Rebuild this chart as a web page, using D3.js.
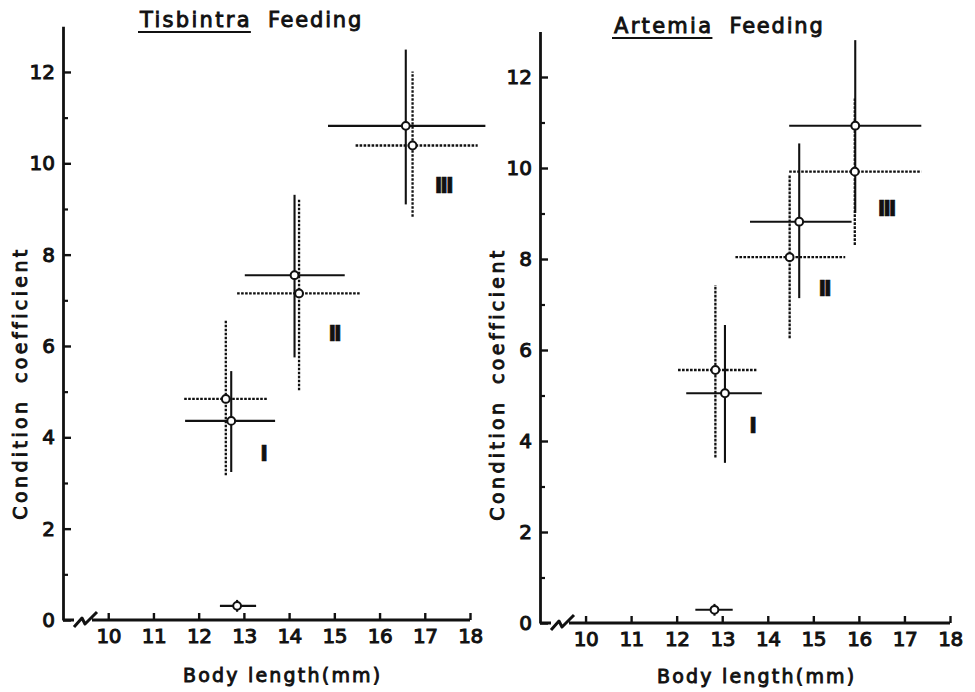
<!DOCTYPE html>
<html>
<head>
<meta charset="utf-8">
<script src="https://cdn.jsdelivr.net/npm/d3@7"></script>
<style>
  body { margin: 0; background: #fff; }
  svg { display: block; }
  text { font-family: "DejaVu Sans", sans-serif; fill: #111; }
</style>
</head>
<body>
<svg id="chart" width="975" height="692"></svg>
<script>
// ---- data ----
// each row: [body length, condition coef, length min, length max, coef min, coef max]
const stages = ["I", "II", "III"];
const xTicks = [10, 11, 12, 13, 14, 15, 16, 17, 18];
const yTicks = [0, 2, 4, 6, 8, 10, 12];
const yMinor = [1, 3, 5, 7, 9, 11];

const tisbintraSolid = [
  [12.72, 4.36, 11.70, 13.69, 3.24, 5.45],
  [14.12, 7.55, 13.02, 15.23, 5.75, 9.31],
  [16.58, 10.82, 14.86, 18.34, 9.10, 12.49]
];
const tisbintraDotted = [
  [12.60, 4.84, 11.68, 13.52, 3.17, 6.56],
  [14.22, 7.15, 12.85, 15.56, 5.03, 9.23],
  [16.73, 10.39, 15.47, 18.17, 8.83, 12.01]
];
const tisbintraStart = [[12.85, 0.31, 12.47, 13.27, 0.18, 0.44]];
const tisbintraLabels = [[13.42, 3.65], [14.99, 6.28], [17.40, 9.52]];

const artemiaSolid = [
  [13.06, 5.05, 12.21, 13.87, 3.52, 6.55],
  [14.69, 8.82, 13.61, 15.84, 7.14, 10.54],
  [15.92, 10.93, 14.47, 17.37, 9.01, 12.81]
];
const artemiaDotted = [
  [12.85, 5.56, 12.03, 13.75, 3.64, 7.43],
  [14.48, 8.04, 13.29, 15.70, 6.26, 9.85],
  [15.91, 9.92, 14.47, 17.37, 8.31, 11.53]
];
const artemiaStart = [[12.83, 0.29, 12.41, 13.23, 0.16, 0.42]];
const artemiaLabels = [[13.65, 4.35], [15.23, 7.36], [16.59, 9.12]];

const svg = d3.select("#chart");

function drawPanel(p) {
  const x = d3.scaleLinear().domain([9, 18]).range(p.xRange);
  const y = d3.scaleLinear().domain([0, 13]).range(p.yRange);
  const g = svg.append("g");
  const ox = x(9), oy = y(0);

  // y axis
  g.append("g")
    .attr("transform", `translate(${ox},0)`)
    .call(d3.axisLeft(y).tickValues(yMinor).tickSizeInner(-5).tickSizeOuter(0).tickFormat(""))
    .call(a => a.selectAll("line").attr("stroke", "#111").attr("stroke-width", 2.2))
    .call(a => a.select(".domain").remove());
  g.append("g")
    .attr("transform", `translate(${ox},0)`)
    .call(d3.axisLeft(y).tickValues(yTicks).tickSizeInner(-8).tickSizeOuter(0).tickPadding(8).tickFormat(d3.format("d")))
    .call(a => a.select(".domain").attr("stroke", "#111").attr("stroke-width", 2.8))
    .call(a => a.selectAll("line").attr("stroke", "#111").attr("stroke-width", 2.4))
    .call(a => a.selectAll("text").attr("font-size", 20).attr("font-family", "DejaVu Sans")
      .attr("fill", "#111").attr("stroke", "#111").attr("stroke-width", 1));

  // x axis
  g.append("g")
    .attr("transform", `translate(0,${oy})`)
    .call(d3.axisBottom(x).tickValues(xTicks).tickSizeInner(-7).tickSizeOuter(0).tickPadding(9).tickFormat(d3.format("d")))
    .call(a => a.select(".domain").remove())
    .call(a => a.selectAll("line").attr("stroke", "#111").attr("stroke-width", 2.4))
    .call(a => a.selectAll("text").attr("font-size", 20).attr("font-family", "DejaVu Sans")
      .attr("letter-spacing", -0.5)
      .attr("fill", "#111").attr("stroke", "#111").attr("stroke-width", 1));
  const axisPath = `M${ox},${oy}H${ox + 11}` +
    `M${ox + 11},${oy + 7}L${ox + 19},${oy - 2}L${ox + 22},${oy + 4}L${ox + 34},${oy - 8}` +
    `M${ox + 29},${oy}H${x(18)}`;
  g.append("path").attr("d", axisPath).attr("fill", "none")
    .attr("stroke", "#111").attr("stroke-width", 3).attr("stroke-linejoin", "round");

  // error bars
  function bars(data, dashed) {
    const s = g.append("g").attr("stroke", "#111").attr("stroke-width", dashed ? 2.3 : 2.1)
      .attr("stroke-dasharray", dashed ? "2.6,1.4" : null);
    s.selectAll(".h").data(data).join("line")
      .attr("x1", d => x(d[2])).attr("x2", d => x(d[3]))
      .attr("y1", d => y(d[1])).attr("y2", d => y(d[1]));
    s.selectAll(".v").data(data).join("line")
      .attr("x1", d => x(d[0])).attr("x2", d => x(d[0]))
      .attr("y1", d => y(d[4])).attr("y2", d => y(d[5]));
  }
  bars(p.dotted, true);
  bars(p.solid, false);
  bars(p.start, false);

  const pts = p.solid.concat(p.dotted, p.start);
  g.selectAll("circle").data(pts).join("circle")
    .attr("cx", d => x(d[0])).attr("cy", d => y(d[1]))
    .attr("r", 3.9).attr("fill", "#fff").attr("stroke", "#111").attr("stroke-width", 2);

  // stage numerals
  g.selectAll(".stage").data(p.labels).join("text")
    .attr("x", d => x(d[0])).attr("y", d => y(d[1]) + 8)
    .attr("text-anchor", "middle")
    .attr("font-family", "DejaVu Serif").attr("font-weight", "bold").attr("font-size", 22)
    .attr("letter-spacing", -2.6)
    .attr("stroke", "#111").attr("stroke-width", 0.6)
    .text((d, i) => stages[i]);

  // title
  const t1 = g.append("text").attr("x", p.titleX).attr("y", p.titleY)
    .attr("font-size", 21).attr("letter-spacing", 2.3)
    .attr("stroke", "#111").attr("stroke-width", 0.9)
    .text(p.title);
  const w1 = t1.node().getComputedTextLength();
  g.append("line").attr("x1", p.titleX - 2).attr("x2", p.titleX + w1 - 1)
    .attr("y1", p.titleY + 5).attr("y2", p.titleY + 5)
    .attr("stroke", "#111").attr("stroke-width", 2.2);
  g.append("text").attr("x", p.titleX + w1 + 16).attr("y", p.titleY)
    .attr("font-size", 21).attr("letter-spacing", 1.8)
    .attr("stroke", "#111").attr("stroke-width", 0.9)
    .text("Feeding");

  // axis titles
  g.append("text").attr("x", p.xLabelX).attr("y", p.xLabelY)
    .attr("font-size", 19).attr("letter-spacing", 2.2)
    .attr("stroke", "#111").attr("stroke-width", 0.9)
    .text("Body length(mm)");
  g.append("text")
    .attr("transform", `translate(${p.yLabelX},${p.yLabelY}) rotate(-90)`)
    .attr("text-anchor", "middle")
    .attr("font-size", 19).attr("letter-spacing", 3.4).attr("word-spacing", 6)
    .attr("stroke", "#111").attr("stroke-width", 0.9)
    .text("Condition coefficient");
}

drawPanel({
  xRange: [63, 470], yRange: [620, 620 - 13 * 45.67],
  solid: tisbintraSolid, dotted: tisbintraDotted, start: tisbintraStart, labels: tisbintraLabels,
  title: "Tisbintra", titleX: 140, titleY: 27,
  xLabelX: 183, xLabelY: 682, yLabelX: 27, yLabelY: 383
});
drawPanel({
  xRange: [540, 950], yRange: [623, 623 - 13 * 45.5],
  solid: artemiaSolid, dotted: artemiaDotted, start: artemiaStart, labels: artemiaLabels,
  title: "Artemia", titleX: 614, titleY: 33,
  xLabelX: 657, xLabelY: 683, yLabelX: 504, yLabelY: 384
});
</script>
</body>
</html>
